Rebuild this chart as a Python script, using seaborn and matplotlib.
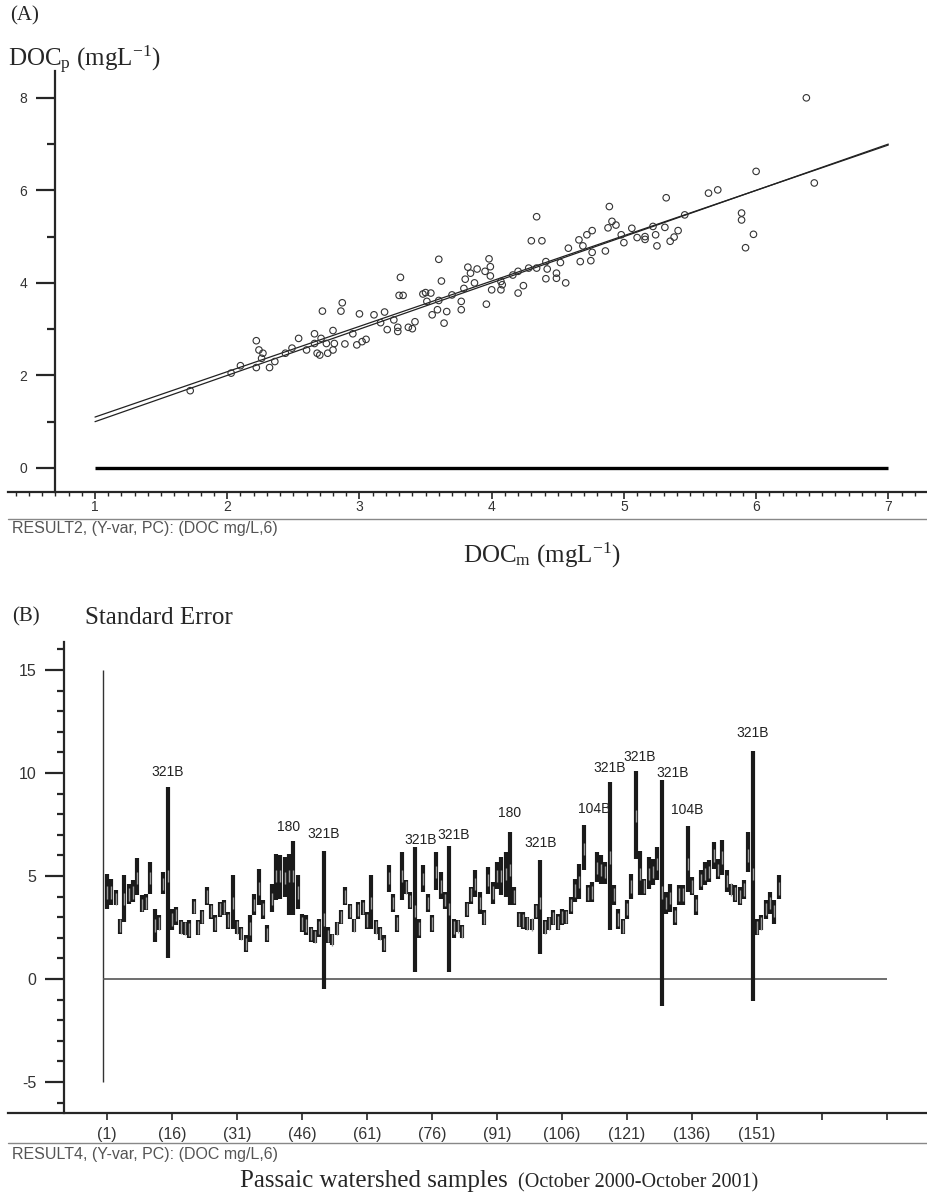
import numpy as np
import matplotlib
matplotlib.use('Agg')
import matplotlib.pyplot as plt
from matplotlib.lines import Line2D
from matplotlib.ticker import MultipleLocator, FixedLocator
import seaborn as sns

# ---- panel A: measured vs predicted DOC (mg/L) ----
DOC_M = [1.72, 2.03, 2.10, 2.22, 2.24, 2.27, 2.26, 2.22, 2.32, 2.36, 2.44, 2.49, 2.54, 2.60,
         2.66, 2.66, 2.68, 2.70, 2.71, 2.72, 2.76, 2.75, 2.80, 2.81, 2.80, 2.86, 2.87, 2.89,
         2.95, 2.98, 3.00, 3.02, 3.05, 3.11, 3.16, 3.19, 3.21, 3.26, 3.29, 3.29, 3.30, 3.33,
         3.31, 3.37, 3.40, 3.42, 3.48, 3.50, 3.54, 3.51, 3.55, 3.59, 3.60, 3.60, 3.62, 3.64,
         3.66, 3.70, 3.77, 3.77, 3.79, 3.80, 3.82, 3.84, 3.87, 3.89, 3.95, 3.96, 3.98, 3.99,
         3.99, 4.00, 4.07, 4.07, 4.16, 4.20, 4.24,
         4.08, 4.20, 4.28, 4.34, 4.30, 4.38, 4.34, 4.41, 4.42, 4.41, 4.49, 4.49, 4.52, 4.56,
         4.58, 4.66, 4.67, 4.69, 4.72, 4.76, 4.76, 4.75, 4.86, 4.88, 4.89, 4.91, 4.94, 4.98,
         5.00, 5.06, 5.10, 5.16, 5.16, 5.22, 5.24, 5.25, 5.31, 5.32, 5.35, 5.38, 5.41, 5.46,
         5.64, 5.71, 5.89, 5.89, 5.92, 5.98, 6.00, 6.38, 6.44]
DOC_P = [1.67, 2.05, 2.21, 2.75, 2.55, 2.48, 2.37, 2.17, 2.17, 2.30, 2.48, 2.59, 2.80, 2.55,
         2.90, 2.69, 2.48, 2.44, 2.80, 3.39, 2.48, 2.69, 2.97, 2.69, 2.55, 3.39, 3.57, 2.68,
         2.90, 2.66, 3.33, 2.73, 2.78, 3.31, 3.14, 3.37, 2.99, 3.20, 3.04, 2.95, 3.73, 3.73,
         4.12, 3.04, 3.01, 3.16, 3.76, 3.79, 3.78, 3.60, 3.31, 3.42, 3.62, 4.51, 4.04, 3.13,
         3.38, 3.74, 3.60, 3.42, 3.88, 4.08, 4.34, 4.21, 4.00, 4.30, 4.25, 3.54, 4.52, 4.35,
         4.15, 3.85, 4.03, 3.85, 4.17, 3.78, 3.94,
         3.96, 4.25, 4.32, 4.32, 4.91, 4.91, 5.43, 4.46, 4.30, 4.09, 4.21, 4.10, 4.44, 4.00,
         4.75, 4.93, 4.46, 4.80, 5.04, 5.13, 4.66, 4.48, 4.69, 5.19, 5.65, 5.33, 5.25, 5.04,
         4.87, 5.18, 4.98, 5.00, 4.94, 5.22, 5.04, 4.80, 5.20, 5.84, 4.90, 4.99, 5.13, 5.47,
         5.94, 6.01, 5.51, 5.36, 4.76, 5.05, 6.41, 8.00, 6.16]
LINE_X = [1, 7]
ONE_TO_ONE_Y = [1.0, 7.0]
FIT_Y = [1.1, 6.98]

# ---- panel B: standard error range for each sample ----
SE_LOW = [3.42, 3.58, 3.58, 2.21, 2.77, 3.66, 3.74, 4.06, 3.26, 3.34, 4.15, 1.81, 2.37, 4.15,
          1.00, 2.37, 2.61, 2.21, 2.13, 1.97, 3.18, 2.13, 2.69, 3.58, 2.94, 2.29, 3.02, 3.10,
          2.45, 2.45, 2.21, 1.89, 1.32, 1.81, 3.10, 3.58, 2.94, 1.81, 3.26, 3.82, 3.90, 3.98,
          3.10, 3.10, 3.42, 2.29, 2.13, 1.81, 1.73, 2.05, -0.48, 1.73, 1.65, 2.13,
          2.69, 3.58, 2.94, 2.29, 2.94, 3.10, 2.45, 2.45, 2.21, 1.89, 1.32, 4.23, 3.26, 2.29,
          3.82, 4.15, 3.42, 0.32, 1.97, 4.23, 3.26, 2.29, 4.31, 3.90, 3.42, 0.32, 1.97, 2.29,
          1.97, 3.02, 3.66, 3.98, 3.18, 2.61, 4.15, 3.66, 4.39, 4.06, 3.98, 3.58, 3.58, 2.53,
          2.45, 2.37, 2.37, 2.94, 1.21, 2.21, 2.37, 2.61, 2.37, 2.61, 2.69, 3.18, 3.74, 3.90,
          5.27, 3.74, 3.74, 4.71, 4.63, 4.63, 2.37, 3.58, 2.45, 2.21, 2.94, 3.90, 5.81, 4.06,
          4.06, 4.39, 4.55, 4.79, -1.30, 3.18, 3.26, 2.61, 3.58, 3.58, 4.23, 4.06, 3.10, 4.31,
          4.55, 4.71, 5.35, 4.87, 5.03, 4.23, 4.06, 3.74, 3.58, 3.90, 5.19, -1.06, 2.13, 2.37,
          2.94, 3.18, 2.69, 3.90]
SE_HIGH = [5.11, 4.87, 4.31, 2.94, 5.03, 4.63, 4.79, 5.89, 4.06, 4.15, 5.68, 3.42, 3.10, 5.19,
           9.34, 3.42, 3.50, 2.85, 2.77, 2.85, 3.90, 2.85, 3.34, 4.47, 3.66, 3.10, 3.74, 3.82,
           3.26, 5.03, 2.85, 2.53, 2.13, 3.10, 4.15, 5.35, 3.82, 2.61, 4.63, 6.08, 6.00, 5.92,
           6.08, 6.69, 5.03, 3.18, 3.10, 2.53, 2.37, 2.94, 6.24, 2.53, 2.21, 2.77,
           3.34, 4.47, 3.66, 2.94, 3.74, 3.82, 3.26, 5.03, 2.85, 2.53, 2.13, 5.52, 4.15, 3.10,
           6.16, 4.79, 4.23, 6.40, 2.94, 5.52, 4.15, 3.10, 6.16, 5.19, 4.23, 6.44, 2.94, 2.85,
           2.61, 3.74, 4.47, 5.27, 4.23, 3.34, 5.44, 4.71, 5.68, 5.92, 6.16, 7.13, 4.47, 3.26,
           3.26, 3.02, 2.94, 3.66, 5.80, 2.85, 3.02, 3.34, 3.18, 3.42, 3.34, 3.98, 4.87, 5.60,
           7.48, 4.55, 4.71, 6.16, 6.00, 5.68, 9.55, 4.55, 3.42, 2.94, 3.82, 5.11, 10.08, 6.24,
           4.87, 5.92, 5.84, 6.40, 9.66, 4.23, 4.63, 3.50, 4.55, 4.55, 7.42, 4.95, 4.06, 5.27,
           5.68, 5.76, 6.65, 5.84, 6.73, 5.27, 4.63, 4.55, 4.47, 4.79, 7.13, 11.05, 2.94, 3.10,
           3.82, 4.23, 3.82, 5.03]
SE_MID = [4.20, 4.20, 3.90, 2.60, 3.90, 4.10, 4.20, 4.90, 3.60, 3.70, 4.90, 2.60, 2.70, 4.60,
          5.00, 2.90, 3.10, 2.50, 2.45, 2.40, 3.50, 2.50, 3.00, 4.00, 3.30, 2.70, 3.40, 3.45,
          2.85, 3.70, 2.50, 2.20, 1.70, 2.45, 3.60, 4.40, 3.40, 2.20, 3.90, 5.00, 5.00, 4.90,
          5.00, 5.00, 4.20, 2.70, 2.60, 2.20, 2.05, 2.50, 2.90, 2.10, 1.90, 2.45,
          3.00, 4.00, 3.30, 2.60, 3.35, 3.45, 2.85, 3.70, 2.50, 2.20, 1.70, 4.90, 3.70, 2.70,
          5.00, 4.45, 3.80, 3.30, 2.45, 4.85, 3.70, 2.70, 5.20, 4.50, 3.85, 3.40, 2.50, 2.55,
          2.30, 3.40, 4.10, 4.60, 3.70, 2.95, 4.80, 4.20, 5.00, 5.00, 5.10, 5.30, 4.00, 2.90,
          2.85, 2.70, 2.65, 3.30, 3.70, 2.50, 2.70, 2.95, 2.75, 3.00, 3.00, 3.60, 4.30, 4.70,
          6.30, 4.15, 4.20, 5.40, 5.30, 5.20, 5.90, 4.10, 2.90, 2.55, 3.40, 4.50, 7.90, 5.10,
          4.50, 5.10, 5.20, 5.60, 4.20, 3.70, 3.95, 3.05, 4.10, 4.10, 5.60, 4.50, 3.60, 4.80,
          5.10, 5.20, 6.00, 5.30, 5.90, 4.75, 4.35, 4.15, 4.00, 4.35, 6.00, 5.10, 2.50, 2.70,
          3.40, 3.70, 3.30, 4.40]
FLAG_SAMPLES = [15, 44, 51, 72, 80, 94, 101, 111, 117, 123, 129, 135, 150]
FLAG_TEXT = ['321B', '180', '321B', '321B', '321B', '180', '321B', '104B',
             '321B', '321B', '321B', '104B', '321B']
FLAG_DX = [0, -1, 0, 1.5, 1, 0, 0, 2.5, 0, 1, 2.5, 0, 0]
FLAG_DY = [0.35, 0.35, 0.45, 0.0, 0.2, 0.6, 0.45, 0.45, 0.35, 0.35, 0.0, 0.45, 0.55]
SAMPLE_TICKS = [1, 16, 31, 46, 61, 76, 91, 106, 121, 136, 151, 166, 181]
SAMPLE_TICK_LABELS = ['(1)', '(16)', '(31)', '(46)', '(61)', '(76)', '(91)', '(106)',
                      '(121)', '(136)', '(151)', '', '']

W, H = 928, 1197


def fx(px):
    return px / W


def fy(py):
    return 1 - py / H


sns.set_theme(style='ticks')
plt.rcParams['font.family'] = ['Liberation Sans', 'DejaVu Sans']
plt.rcParams['axes.unicode_minus'] = False
plt.rcParams['mathtext.fontset'] = 'custom'
plt.rcParams['mathtext.rm'] = 'Liberation Serif'
plt.rcParams['mathtext.it'] = 'Liberation Serif:italic'
SERIF = ['Liberation Serif', 'DejaVu Serif']

fig = plt.figure(figsize=(9.28, 11.97), dpi=100)

# ---------------- panel A ----------------
ax1 = fig.add_axes([fx(8), fy(492), fx(920), (492 - 71) / H])
ax1.plot(LINE_X, ONE_TO_ONE_Y, color='#222222', lw=0.9)
ax1.plot(LINE_X, FIT_Y, color='#222222', lw=0.9)
ax1.plot(LINE_X, [0, 0], color='black', lw=2.4, solid_capstyle='butt')
sns.scatterplot(x=DOC_M, y=DOC_P, ax=ax1, color='none', edgecolor='#333333',
                s=22, linewidth=0.8, zorder=3)
ax1.set_xlim(0.342, 7.30)
ax1.set_ylim(-0.52, 8.58)
for s in ['top', 'right']:
    ax1.spines[s].set_visible(False)
ax1.spines['left'].set_position(('data', 0.697))
ax1.spines['left'].set_linewidth(1.6)
ax1.spines['bottom'].set_linewidth(1.6)
ax1.xaxis.set_minor_locator(MultipleLocator(0.1))
ax1.set_xticks(range(1, 8))
ax1.yaxis.set_major_locator(FixedLocator([0, 2, 4, 6, 8]))
ax1.yaxis.set_minor_locator(FixedLocator([1, 3, 5, 7]))
ax1.tick_params(axis='y', which='major', direction='out', length=14, width=1.6,
                pad=6, labelsize=10, labelcolor='#333333')
ax1.tick_params(axis='y', which='minor', direction='out', length=6, width=1.6)
ax1.tick_params(axis='x', which='major', direction='out', length=5, width=1.2,
                pad=1, labelsize=10, labelcolor='#333333')
ax1.tick_params(axis='x', which='minor', direction='out', length=3, width=1.0)
ax1.set_xlabel('')
ax1.set_ylabel('')
ax1.set_facecolor('none')

# ---------------- panel B ----------------
ax2 = fig.add_axes([fx(8), fy(1113), fx(920), (1113 - 642) / H])
samples = np.arange(1, len(SE_MID) + 1)
mid = np.array(SE_MID)
ax2.vlines([0], -5, 15, color='#333333', lw=1.0)
ax2.hlines([0], 0, 181, color='#555555', lw=1.2)
ax2.vlines(samples, SE_LOW, SE_HIGH, color='#1a1a1a', lw=3.0)
ax2.vlines(samples, mid - 0.3, mid + 0.3, color='#9a9a9a', lw=1.0)
for s_id, txt, dx, dy in zip(FLAG_SAMPLES, FLAG_TEXT, FLAG_DX, FLAG_DY):
    ax2.text(s_id + dx, SE_HIGH[s_id - 1] + dy, txt, ha='center', va='bottom',
             fontsize=10, color='#222222')
ax2.set_xlim(-21.85, 190.5)
ax2.set_ylim(-6.5, 16.36)
for s in ['top', 'right']:
    ax2.spines[s].set_visible(False)
ax2.spines['left'].set_position(('data', -8.92))
ax2.spines['left'].set_linewidth(1.6)
ax2.spines['bottom'].set_linewidth(1.6)
ax2.set_xticks(SAMPLE_TICKS)
ax2.set_xticklabels(SAMPLE_TICK_LABELS)
ax2.yaxis.set_major_locator(FixedLocator([-5, 0, 5, 10, 15]))
ax2.yaxis.set_minor_locator(MultipleLocator(1))
ax2.tick_params(axis='y', which='major', direction='out', length=14, width=1.6,
                pad=6, labelsize=11.5, labelcolor='#333333')
ax2.tick_params(axis='y', which='minor', direction='out', length=5, width=1.6)
ax2.tick_params(axis='x', which='major', direction='out', length=5, width=1.2,
                pad=5, labelsize=11.5, labelcolor='#333333')
ax2.set_facecolor('none')

# ---------------- surrounding text ----------------
for py in (519, 1143):
    fig.add_artist(Line2D([fx(8), 1.0], [fy(py), fy(py)], color='#888888', lw=1.0))

fig.text(fx(10), fy(16), '(A)', fontsize=15, family=SERIF, va='center')
fig.text(fx(8), fy(60), r'DOC$_\mathrm{p}$ (mgL$^{\mathrm{-1}}$)', fontsize=18,
         family=SERIF, va='center')
fig.text(fx(12), fy(529), 'RESULT2, (Y-var, PC): (DOC mg/L,6)', fontsize=11.5,
         color='#555555', va='center')
fig.text(fx(542), fy(555), r'DOC$_\mathrm{m}$ (mgL$^{\mathrm{-1}}$)', fontsize=18,
         family=SERIF, ha='center', va='center')

fig.text(fx(12), fy(617), '(B)', fontsize=15, family=SERIF, va='center')
fig.text(fx(85), fy(618), 'Standard Error', fontsize=18, family=SERIF, va='center')
fig.text(fx(12), fy(1155), 'RESULT4, (Y-var, PC): (DOC mg/L,6)', fontsize=11.5,
         color='#555555', va='center')
fig.text(fx(240), fy(1187), 'Passaic watershed samples', fontsize=18,
         family=SERIF, va='baseline')
fig.text(fx(518), fy(1187), '(October 2000-October 2001)', fontsize=14.5,
         family=SERIF, va='baseline')

fig.savefig('out.png', dpi=100, facecolor='white')
